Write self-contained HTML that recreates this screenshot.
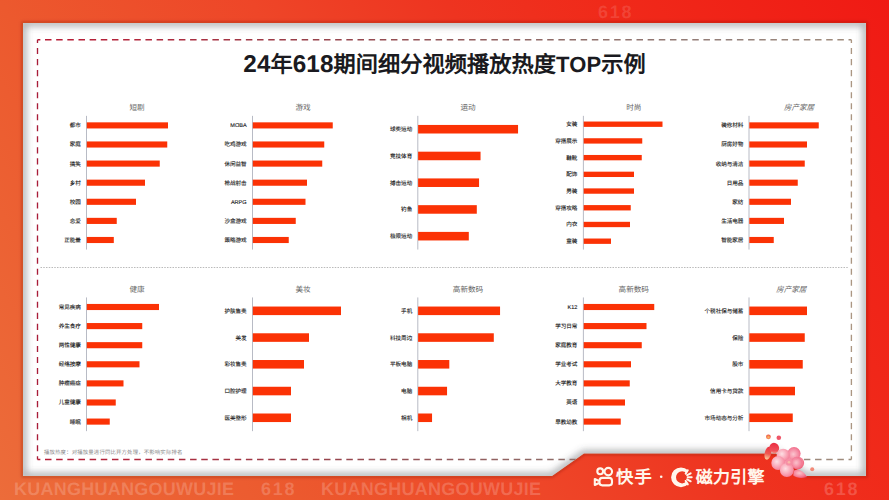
<!DOCTYPE html>
<html lang="zh-CN">
<head>
<meta charset="utf-8">
<title>24年618期间细分视频播放热度TOP示例</title>
<style>
*{margin:0;padding:0;box-sizing:border-box}
html,body{width:889px;height:500px;overflow:hidden}
body{font-family:"Liberation Sans",sans-serif;position:relative;text-rendering:geometricPrecision;
 background:linear-gradient(59deg,#ec6c3a 0%,#ec592e 25.2%,#ee4628 46.3%,#ee3420 62.7%,#f02a1a 75.7%,#f01a14 100%);}
.abs{position:absolute}
.wm{position:absolute;font-weight:bold;font-size:18px;line-height:18px;color:rgba(255,255,255,.19);white-space:nowrap;letter-spacing:.25px}
#frame{position:absolute;left:0;top:0;width:889px;height:500px}
h1 .d{font-size:24.3px}h1 .l{font-size:22px}
h1{position:absolute;left:0;top:50px;width:889px;text-align:center;font-size:22.2px;line-height:30px;font-weight:bold;color:#1a1a20;white-space:nowrap;letter-spacing:.07px}
.ct{position:absolute;width:120px;text-align:center;font-size:7.6px;line-height:10px;color:#666;white-space:nowrap}
.ct.it{font-style:italic}
.lb{position:absolute;width:80px;text-align:right;font-size:5.55px;line-height:8px;color:#111;font-weight:500;-webkit-text-stroke:.1px #222;white-space:nowrap}
.lg{position:absolute;top:465px;height:24px;line-height:24px;font-weight:bold;color:#fff6ec;white-space:nowrap}
#note{position:absolute;left:44px;top:448.5px;font-size:5.4px;line-height:8px;color:#8a8a8a;letter-spacing:.15px;white-space:nowrap}
</style>
</head>
<body>
<div class="wm" style="left:598px;top:3px;letter-spacing:1.7px;color:rgba(255,255,255,.13)">618</div>
<div class="wm" style="left:14px;top:480px">KUANGHUANGOUWUJIE</div>
<div class="wm" style="left:261px;top:480px;letter-spacing:1.7px">618</div>
<div class="wm" style="left:321px;top:480px">KUANGHUANGOUWUJIE</div>
<div class="wm" style="left:824px;top:480px;letter-spacing:1.7px">618</div>
<svg class="abs" style="left:0;top:0" width="889" height="500" viewBox="0 0 889 500">
 <defs>
  <clipPath id="pc"><path d="M23 23H866V476H806L776 453.5H584L552 476H23Z"/></clipPath>
  <filter id="pb" x="-5%" y="-5%" width="110%" height="110%"><feGaussianBlur stdDeviation="3.8"/></filter>
  <filter id="pb2" x="-5%" y="-5%" width="110%" height="110%"><feGaussianBlur stdDeviation="1.5"/></filter>
 </defs>
 <path d="M23 23H866V476H806L776 453.5H584L552 476H23Z" fill="none" stroke="rgba(120,20,0,.35)" stroke-width="3" filter="url(#pb2)"/>
 <path d="M23 23H866V476H806L776 453.5H584L552 476H23Z" fill="#fff"/>
 <g clip-path="url(#pc)">
  <path d="M23 23H866V476H806L776 453.5H584L552 476H23Z" fill="none" stroke="rgba(75,80,85,.5)" stroke-width="6" filter="url(#pb)"/>
 </g>
</svg>
<svg id="frame" viewBox="0 0 889 500">
 <defs>
  <linearGradient id="dg" gradientUnits="userSpaceOnUse" x1="37" y1="0" x2="852" y2="0">
   <stop offset="0" stop-color="#b81a34"/><stop offset=".12" stop-color="#b2263c"/><stop offset=".33" stop-color="#98404a"/><stop offset=".64" stop-color="#8f6c68"/><stop offset=".85" stop-color="#94807a"/><stop offset="1" stop-color="#a08c7c"/>
  </linearGradient>
 </defs>
 <g fill="none" stroke-width="1.55" clip-path="url(#pc)">
  <path d="M37.5 39.8H851.4" stroke="url(#dg)" stroke-dasharray="6.5 4.66" stroke-dashoffset="3.66"/>
  <path d="M37.5 459.5H851.4" stroke="url(#dg)" stroke-dasharray="6.5 4.66" stroke-dashoffset="3.66"/>
  <path d="M37.5 39.8V459.5" stroke="#a81c38" stroke-width="1.35" stroke-dasharray="6.1 4.933" stroke-dashoffset="2.833"/>
  <path d="M851.4 39.8V459.5" stroke="#ab9682" stroke-width="1.35" stroke-dasharray="6.1 4.933" stroke-dashoffset="2.833"/>
 </g>
</svg>
<h1><span class="d">24</span>年<span class="d">618</span>期间细分视频播放热度<span class="l">TOP</span>示例</h1>

<div class="ct" style="left:77.00px;top:103px">短剧</div>
<div class="lb" style="left:0.90px;top:122px">都市</div>
<div class="lb" style="left:0.90px;top:141px">家庭</div>
<div class="lb" style="left:0.90px;top:161px">搞笑</div>
<div class="lb" style="left:0.90px;top:180px">乡村</div>
<div class="lb" style="left:0.90px;top:199px">校园</div>
<div class="lb" style="left:0.90px;top:218px">恋爱</div>
<div class="lb" style="left:0.90px;top:237px">正能量</div>
<div class="ct" style="left:243.00px;top:103px">游戏</div>
<div class="lb" style="left:166.65px;top:122px">MOBA</div>
<div class="lb" style="left:166.65px;top:141px">吃鸡游戏</div>
<div class="lb" style="left:166.65px;top:161px">休闲益智</div>
<div class="lb" style="left:166.65px;top:180px">枪战射击</div>
<div class="lb" style="left:166.65px;top:199px">ARPG</div>
<div class="lb" style="left:166.65px;top:218px">沙盒游戏</div>
<div class="lb" style="left:166.65px;top:237px">策略游戏</div>
<div class="ct" style="left:408.00px;top:103px">运动</div>
<div class="lb" style="left:332.20px;top:126px">球类运动</div>
<div class="lb" style="left:332.20px;top:153px">竞技体育</div>
<div class="lb" style="left:332.20px;top:180px">搏击运动</div>
<div class="lb" style="left:332.20px;top:206px">钓鱼</div>
<div class="lb" style="left:332.20px;top:233px">极限运动</div>
<div class="ct" style="left:573.75px;top:103px">时尚</div>
<div class="lb" style="left:497.40px;top:121px">女装</div>
<div class="lb" style="left:497.40px;top:138px">穿搭展示</div>
<div class="lb" style="left:497.40px;top:155px">鞋靴</div>
<div class="lb" style="left:497.40px;top:171px">配饰</div>
<div class="lb" style="left:497.40px;top:188px">男装</div>
<div class="lb" style="left:497.40px;top:205px">穿搭攻略</div>
<div class="lb" style="left:497.40px;top:221px">内衣</div>
<div class="lb" style="left:497.40px;top:238px">童装</div>
<div class="ct it" style="left:739.00px;top:103px">房产家居</div>
<div class="lb" style="left:663.40px;top:122px">装修材料</div>
<div class="lb" style="left:663.40px;top:141px">厨房好物</div>
<div class="lb" style="left:663.40px;top:161px">收纳与清洁</div>
<div class="lb" style="left:663.40px;top:180px">日用品</div>
<div class="lb" style="left:663.40px;top:199px">家纺</div>
<div class="lb" style="left:663.40px;top:218px">生活电器</div>
<div class="lb" style="left:663.40px;top:237px">智能家居</div>
<div class="ct" style="left:77.00px;top:285px">健康</div>
<div class="lb" style="left:0.90px;top:304px">常见疾病</div>
<div class="lb" style="left:0.90px;top:323px">养生食疗</div>
<div class="lb" style="left:0.90px;top:342px">两性健康</div>
<div class="lb" style="left:0.90px;top:361px">经络按摩</div>
<div class="lb" style="left:0.90px;top:380px">肿瘤癌症</div>
<div class="lb" style="left:0.90px;top:399px">儿童健康</div>
<div class="lb" style="left:0.90px;top:419px">睡眠</div>
<div class="ct" style="left:243.00px;top:285px">美妆</div>
<div class="lb" style="left:166.65px;top:308px">护肤售卖</div>
<div class="lb" style="left:166.65px;top:335px">美发</div>
<div class="lb" style="left:166.65px;top:361px">彩妆售卖</div>
<div class="lb" style="left:166.65px;top:388px">口腔护理</div>
<div class="lb" style="left:166.65px;top:415px">医美整形</div>
<div class="ct" style="left:408.00px;top:285px">高新数码</div>
<div class="lb" style="left:332.20px;top:308px">手机</div>
<div class="lb" style="left:332.20px;top:335px">科技周边</div>
<div class="lb" style="left:332.20px;top:361px">平板电脑</div>
<div class="lb" style="left:332.20px;top:388px">电脑</div>
<div class="lb" style="left:332.20px;top:415px">相机</div>
<div class="ct" style="left:573.75px;top:285px">高新数码</div>
<div class="lb" style="left:497.40px;top:304px">K12</div>
<div class="lb" style="left:497.40px;top:323px">学习日常</div>
<div class="lb" style="left:497.40px;top:342px">家庭教育</div>
<div class="lb" style="left:497.40px;top:361px">学业考试</div>
<div class="lb" style="left:497.40px;top:380px">大学教育</div>
<div class="lb" style="left:497.40px;top:399px">英语</div>
<div class="lb" style="left:497.40px;top:419px">早教幼教</div>
<div class="ct it" style="left:731.25px;top:285px">房产家居</div>
<div class="lb" style="left:663.40px;top:308px">个税社保与储蓄</div>
<div class="lb" style="left:663.40px;top:335px">保险</div>
<div class="lb" style="left:663.40px;top:361px">股市</div>
<div class="lb" style="left:663.40px;top:388px">信用卡与贷款</div>
<div class="lb" style="left:663.40px;top:415px">市场动态与分析</div>
<svg class="abs" style="left:0;top:0" width="889" height="500" viewBox="0 0 889 500" fill="#fb3205">
<path d="M40.5 267.5H849" stroke="#b2b2b2" stroke-width=".9" stroke-dasharray="1.5 1.25" fill="none"/>
<path d="M86.50 115.85V249.55" stroke="#a6a9b6" stroke-width=".8"/>
<rect x="86.80" y="122.34" width="81.20" height="6.11"/>
<rect x="86.80" y="141.44" width="80.45" height="6.11"/>
<rect x="86.80" y="160.54" width="72.95" height="6.11"/>
<rect x="86.80" y="179.64" width="58.20" height="6.11"/>
<rect x="86.80" y="198.74" width="49.20" height="6.11"/>
<rect x="86.80" y="217.84" width="29.95" height="6.11"/>
<rect x="86.80" y="236.94" width="27.00" height="6.11"/>
<path d="M252.50 115.85V249.55" stroke="#a6a9b6" stroke-width=".8"/>
<rect x="252.80" y="122.34" width="79.95" height="6.11"/>
<rect x="252.80" y="141.44" width="71.45" height="6.11"/>
<rect x="252.80" y="160.54" width="69.45" height="6.11"/>
<rect x="252.80" y="179.64" width="54.20" height="6.11"/>
<rect x="252.80" y="198.74" width="52.70" height="6.11"/>
<rect x="252.80" y="217.84" width="42.95" height="6.11"/>
<rect x="252.80" y="236.94" width="35.95" height="6.11"/>
<path d="M417.80 115.85V249.55" stroke="#a6a9b6" stroke-width=".8"/>
<rect x="418.10" y="124.94" width="99.95" height="8.56"/>
<rect x="418.10" y="151.68" width="62.45" height="8.56"/>
<rect x="418.10" y="178.42" width="60.95" height="8.56"/>
<rect x="418.10" y="205.16" width="58.70" height="8.56"/>
<rect x="418.10" y="231.90" width="50.70" height="8.56"/>
<path d="M583.40 115.85V249.55" stroke="#a6a9b6" stroke-width=".8"/>
<rect x="583.70" y="121.53" width="78.80" height="5.35"/>
<rect x="583.70" y="138.24" width="58.55" height="5.35"/>
<rect x="583.70" y="154.96" width="58.05" height="5.35"/>
<rect x="583.70" y="171.67" width="50.30" height="5.35"/>
<rect x="583.70" y="188.38" width="50.30" height="5.35"/>
<rect x="583.70" y="205.09" width="47.05" height="5.35"/>
<rect x="583.70" y="221.81" width="46.30" height="5.35"/>
<rect x="583.70" y="238.52" width="27.30" height="5.35"/>
<path d="M749.00 115.85V249.55" stroke="#a6a9b6" stroke-width=".8"/>
<rect x="749.30" y="122.34" width="69.45" height="6.11"/>
<rect x="749.30" y="141.44" width="57.70" height="6.11"/>
<rect x="749.30" y="160.54" width="55.45" height="6.11"/>
<rect x="749.30" y="179.64" width="48.45" height="6.11"/>
<rect x="749.30" y="198.74" width="41.70" height="6.11"/>
<rect x="749.30" y="217.84" width="34.70" height="6.11"/>
<rect x="749.30" y="236.94" width="24.45" height="6.11"/>
<path d="M86.50 297.45V431.15" stroke="#a6a9b6" stroke-width=".8"/>
<rect x="86.80" y="303.94" width="72.20" height="6.11"/>
<rect x="86.80" y="323.04" width="55.45" height="6.11"/>
<rect x="86.80" y="342.14" width="55.45" height="6.11"/>
<rect x="86.80" y="361.24" width="52.70" height="6.11"/>
<rect x="86.80" y="380.34" width="36.70" height="6.11"/>
<rect x="86.80" y="399.44" width="28.95" height="6.11"/>
<rect x="86.80" y="418.54" width="22.95" height="6.11"/>
<path d="M252.50 297.45V431.15" stroke="#a6a9b6" stroke-width=".8"/>
<rect x="252.80" y="306.54" width="88.20" height="8.56"/>
<rect x="252.80" y="333.28" width="56.20" height="8.56"/>
<rect x="252.80" y="360.02" width="51.20" height="8.56"/>
<rect x="252.80" y="386.76" width="38.20" height="8.56"/>
<rect x="252.80" y="413.50" width="38.20" height="8.56"/>
<path d="M417.80 297.45V431.15" stroke="#a6a9b6" stroke-width=".8"/>
<rect x="418.10" y="306.54" width="81.95" height="8.56"/>
<rect x="418.10" y="333.28" width="75.70" height="8.56"/>
<rect x="418.10" y="360.02" width="31.20" height="8.56"/>
<rect x="418.10" y="386.76" width="28.95" height="8.56"/>
<rect x="418.10" y="413.50" width="13.95" height="8.56"/>
<path d="M583.40 297.45V431.15" stroke="#a6a9b6" stroke-width=".8"/>
<rect x="583.70" y="303.94" width="70.55" height="6.11"/>
<rect x="583.70" y="323.04" width="62.80" height="6.11"/>
<rect x="583.70" y="342.14" width="58.05" height="6.11"/>
<rect x="583.70" y="361.24" width="47.30" height="6.11"/>
<rect x="583.70" y="380.34" width="46.05" height="6.11"/>
<rect x="583.70" y="399.44" width="41.30" height="6.11"/>
<rect x="583.70" y="418.54" width="37.05" height="6.11"/>
<path d="M749.00 297.45V431.15" stroke="#a6a9b6" stroke-width=".8"/>
<rect x="749.30" y="306.54" width="57.70" height="8.56"/>
<rect x="749.30" y="333.28" width="55.45" height="8.56"/>
<rect x="749.30" y="360.02" width="53.45" height="8.56"/>
<rect x="749.30" y="386.76" width="45.70" height="8.56"/>
<rect x="749.30" y="413.50" width="43.45" height="8.56"/>
</svg>
<div id="note">播放热度：对播放量进行同比开方处理，不影响实际排名</div>
<svg class="abs" style="left:0;top:0" width="889" height="500" viewBox="0 0 889 500">
 <g fill="none" stroke="#fff6ec" stroke-width="2.1" stroke-linejoin="round">
  <circle cx="600.2" cy="471.3" r="2.9"/>
  <circle cx="608.3" cy="471.6" r="3.75"/>
  <rect x="599.5" y="477.9" width="12.5" height="7.5" rx="2.8"/>
  <path d="M599 481 L594.8 479 L594.8 485 L599 483"/>
 </g>
 <circle cx="661.2" cy="476.8" r="1.3" fill="#fff6ec"/>
 <clipPath id="cc"><path d="M682.4 477.3L696 460.3L660 450L660 505L696 494.3Z"/></clipPath>
 <path clip-path="url(#cc)" fill-rule="evenodd" fill="#fff6ec" d="M671.1 477.3a9.9 9.9 0 1 0 19.8 0a9.9 9.9 0 1 0 -19.8 0ZM676 477.3a6.1 6.1 0 1 0 12.2 0a6.1 6.1 0 1 0 -12.2 0Z"/>
 <g stroke="#fff6ec" stroke-width="2" stroke-linecap="round">
  <path d="M685.68 473.65L687.80 470.26"/>
  <path d="M687.16 475.22L690.66 473.28"/>
  <path d="M687.70 477.30L691.70 477.30"/>
  <path d="M687.16 479.38L690.66 481.32"/>
  <path d="M685.68 480.95L687.80 484.34"/>
 </g>
</svg>
<div class="lg" style="left:616px;font-size:17.3px;letter-spacing:1.2px">快手</div>
<div class="lg" style="left:695.8px;top:466px;font-size:17px;letter-spacing:.2px">磁力引擎</div>

<svg class="abs" style="left:750px;top:425px" width="90" height="70" viewBox="750 425 90 70">
 <defs>
  <radialGradient id="p1" cx=".4" cy=".4" r=".7"><stop offset="0" stop-color="#fddfe4"/><stop offset=".55" stop-color="#f9a5b6"/><stop offset="1" stop-color="#f27591"/></radialGradient>
  <radialGradient id="p2" cx=".45" cy=".4" r=".7"><stop offset="0" stop-color="#fbc3cb"/><stop offset=".6" stop-color="#f58298"/><stop offset="1" stop-color="#ea4a66"/></radialGradient>
  <linearGradient id="p3" x1="0" y1="0" x2="0" y2="1"><stop offset="0" stop-color="#ec3040"/><stop offset=".55" stop-color="#f05a52"/><stop offset="1" stop-color="#fbd3a0"/></linearGradient>
  <radialGradient id="p4" cx=".5" cy=".6" r=".6"><stop offset="0" stop-color="#f9c36a"/><stop offset="1" stop-color="#ee4a3c"/></radialGradient>
  <radialGradient id="p5" cx=".45" cy=".55" r=".65"><stop offset="0" stop-color="#fbc5cf"/><stop offset=".6" stop-color="#f58aa2"/><stop offset="1" stop-color="#ee5c7c"/></radialGradient>
  <linearGradient id="p6" x1=".7" y1="0" x2=".2" y2="1"><stop offset="0" stop-color="#ea2c40"/><stop offset=".7" stop-color="#f0505a"/><stop offset="1" stop-color="#f79a86"/></linearGradient>
  <filter id="fb" x="-20%" y="-20%" width="140%" height="140%"><feGaussianBlur stdDeviation=".45"/></filter>
 </defs>
 <g filter="url(#fb)">
  <circle cx="768.4" cy="436.8" r="2.4" fill="url(#p4)"/>
  <circle cx="778.8" cy="437.7" r="2.3" fill="#ef5468"/>
  <ellipse cx="768" cy="453.2" rx="3.3" ry="6.6" fill="url(#p3)" transform="rotate(14 768 453.2)"/>
  <ellipse cx="774.2" cy="448" rx="4.9" ry="5.2" fill="url(#p6)" transform="rotate(-25 774.2 448)"/>
  <circle cx="812.2" cy="469.2" r="2" fill="#f28a78"/>
  <path d="M794 470.5 C798 468.5 803.5 471 807 477 C802.5 478.6 796.5 478.3 793.2 475.6 Z" fill="url(#p2)"/>
  <circle cx="788.6" cy="462" r="7" fill="#f7a2b4"/>
  <circle cx="797.6" cy="463" r="6.5" fill="url(#p2)"/>
  <circle cx="794" cy="453.6" r="6.6" fill="url(#p5)"/>
  <circle cx="783.2" cy="455.2" r="6.5" fill="url(#p1)"/>
  <circle cx="778.2" cy="463" r="6.9" fill="url(#p1)"/>
  <circle cx="786.9" cy="470" r="7" fill="url(#p1)"/>
  <circle cx="796.6" cy="462.4" r="5.6" fill="url(#p5)" opacity=".75"/>
  <circle cx="789" cy="462.2" r="3.4" fill="#f58ea4" opacity=".9"/>
  <circle cx="789" cy="462.2" r="1.3" fill="#f9b9a8"/>
 </g>
</svg>

</body></html>
